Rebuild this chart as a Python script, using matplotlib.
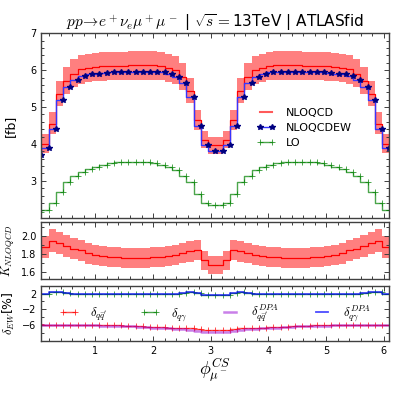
import numpy as np
import matplotlib
matplotlib.use("Agg")
from matplotlib import pyplot as plt
from matplotlib.ticker import MultipleLocator
from matplotlib.lines import Line2D

plt.rcParams['mathtext.fontset'] = 'cm'
plt.rcParams['font.family'] = 'DejaVu Sans'

# bin centres of phi_mu^CS (50 bins over 2pi, last one not drawn)
phi = (np.arange(49) + 0.5) * 2 * np.pi / 50

# cross sections [fb]
lo = [2.15, 2.21, 2.41, 2.71, 2.96, 3.14, 3.23, 3.31, 3.38, 3.43, 3.47, 3.50, 3.52, 3.52, 3.52, 3.50, 3.47,
      3.43, 3.38, 3.30, 3.14, 2.96, 2.64, 2.41, 2.35,
      2.35, 2.41, 2.64, 2.96, 3.14, 3.30, 3.38, 3.43, 3.47, 3.50, 3.52, 3.52, 3.52, 3.50, 3.47, 3.43,
      3.38, 3.31, 3.23, 3.14, 2.96, 2.71, 2.41, 2.21]
nloqcd = [3.82, 4.01, 4.55, 5.36, 5.72, 5.91, 6.02, 6.07, 6.09, 6.11, 6.12, 6.12, 6.12, 6.13, 6.13, 6.13, 6.13,
          6.12, 6.07, 6.00, 5.82, 5.44, 4.65, 4.12, 3.96,
          3.96, 4.12, 4.65, 5.44, 5.82, 6.00, 6.07, 6.12, 6.13, 6.13, 6.13, 6.13, 6.12, 6.12, 6.12, 6.11,
          6.09, 6.07, 6.02, 5.91, 5.72, 5.36, 4.55, 4.01]
nloqcdew = [3.70, 3.89, 4.41, 5.20, 5.55, 5.73, 5.84, 5.89, 5.91, 5.93, 5.94, 5.94, 5.94, 5.95, 5.95, 5.95, 5.95,
            5.94, 5.89, 5.82, 5.64, 5.27, 4.50, 3.98, 3.82,
            3.82, 3.98, 4.50, 5.27, 5.64, 5.82, 5.89, 5.94, 5.95, 5.95, 5.95, 5.95, 5.94, 5.94, 5.94, 5.93,
            5.91, 5.89, 5.84, 5.73, 5.55, 5.20, 4.41, 3.89]
# scale uncertainty of NLOQCD [%]
scale_up = [6.3, 6.5, 6.8, 6.7, 6.6, 6.5, 6.4, 6.3, 6.3, 6.2, 6.2, 6.2, 6.2, 6.2, 6.2, 6.2, 6.2, 6.2, 6.3, 6.3,
            6.3, 6.2, 6.0, 5.8, 5.7,
            5.7, 5.8, 6.0, 6.2, 6.3, 6.3, 6.3, 6.2, 6.2, 6.2, 6.2, 6.2, 6.2, 6.2, 6.2, 6.2, 6.3, 6.3, 6.4,
            6.5, 6.6, 6.7, 6.8, 6.5]
scale_dn = [6.2, 6.3, 6.4, 6.4, 6.4, 6.4, 6.4, 6.4, 6.4, 6.4, 6.4, 6.4, 6.4, 6.4, 6.4, 6.4, 6.4, 6.4, 6.4, 6.4,
            6.3, 6.2, 6.0, 5.9, 5.8,
            5.8, 5.9, 6.0, 6.2, 6.3, 6.4, 6.4, 6.4, 6.4, 6.4, 6.4, 6.4, 6.4, 6.4, 6.4, 6.4, 6.4, 6.4, 6.4,
            6.4, 6.4, 6.4, 6.4, 6.3]
# K factor NLOQCD/LO
kfac = [1.80, 1.875, 1.95, 1.92, 1.89, 1.86, 1.84, 1.81, 1.79, 1.78, 1.77, 1.765, 1.76, 1.76, 1.76, 1.76, 1.765,
        1.77, 1.78, 1.79, 1.81, 1.83, 1.85, 1.73, 1.68,
        1.68, 1.73, 1.85, 1.83, 1.81, 1.79, 1.78, 1.77, 1.765, 1.76, 1.76, 1.76, 1.76, 1.765, 1.77, 1.78,
        1.79, 1.81, 1.84, 1.86, 1.89, 1.92, 1.95, 1.875]
# EW corrections [%]
d_qq = [-5.8, -5.9, -5.9, -5.9, -5.9, -5.9, -5.9, -5.9, -5.9, -6.0, -6.0, -6.0, -6.1, -6.2, -6.3, -6.4, -6.5,
        -6.5, -6.6, -6.6, -6.7, -6.8, -7.0, -7.1, -7.2,
        -7.2, -7.1, -7.0, -6.8, -6.7, -6.6, -6.6, -6.5, -6.5, -6.4, -6.3, -6.2, -6.1, -6.0, -6.0, -6.0,
        -5.9, -5.9, -5.9, -5.9, -5.9, -5.9, -5.9, -5.9]
d_qq_dpa = [-6.0, -6.0, -6.0, -6.0, -6.0, -6.0, -6.0, -6.0, -6.0, -6.1, -6.1, -6.1, -6.2, -6.3, -6.4, -6.5, -6.6,
            -6.7, -6.8, -6.9, -7.0, -7.2, -7.4, -7.6, -7.6,
            -7.6, -7.6, -7.4, -7.2, -7.0, -6.9, -6.8, -6.7, -6.6, -6.5, -6.4, -6.3, -6.2, -6.1, -6.1, -6.1,
            -6.0, -6.0, -6.0, -6.0, -6.0, -6.0, -6.0, -6.0]
d_qg = [1.8, 2.0, 2.4, 2.3, 2.1, 2.0, 2.0, 1.9, 1.9, 1.9, 1.9, 1.9, 1.9, 1.9, 1.9, 1.9, 1.9, 1.9, 2.0, 2.0,
        2.1, 2.4, 2.2, 1.7, 1.6,
        1.6, 1.7, 2.2, 2.4, 2.1, 2.0, 2.0, 1.9, 1.9, 1.9, 1.9, 1.9, 1.9, 1.9, 1.9, 1.9, 1.9, 1.9, 2.0,
        2.0, 2.1, 2.3, 2.4, 2.0]
d_qg_dpa = [1.9, 2.0, 2.4, 2.3, 2.1, 2.0, 2.0, 2.0, 1.9, 1.9, 1.9, 1.9, 1.9, 1.9, 1.9, 1.9, 1.9, 2.0, 2.0, 2.0,
            2.1, 2.4, 2.2, 1.6, 1.6,
            1.6, 1.6, 2.2, 2.4, 2.1, 2.0, 2.0, 2.0, 1.9, 1.9, 1.9, 1.9, 1.9, 1.9, 1.9, 1.9, 1.9, 2.0, 2.0,
            2.0, 2.1, 2.3, 2.4, 2.0]

nloqcd = np.array(nloqcd)
kfac = np.array(kfac)
up = 1 + np.array(scale_up) / 100
dn = 1 - np.array(scale_dn) / 100

fig = plt.figure(figsize=(3.99, 3.99), dpi=100)
ax1 = fig.add_axes([0.1035, 0.4544, 0.8722, 0.4621])
ax2 = fig.add_axes([0.1035, 0.3000, 0.8722, 0.1444])
ax3 = fig.add_axes([0.1035, 0.1454, 0.8722, 0.1386])

# main panel
ax1.fill_between(phi, nloqcd * dn, nloqcd * up, step='pre', color='red', alpha=0.5, lw=0)
ax1.step(phi, nloqcd, where='pre', color='red', lw=0.9)
ax1.step(phi, lo, where='pre', color='green', alpha=0.7, lw=1.0, marker='+', ms=4, mew=0.7)
ax1.step(phi, nloqcdew, where='pre', color='#3535ff', lw=1.0, marker='*', ms=3.8,
         mfc='navy', mec='navy')
ax1.set_ylim(2.0, 7.0)
ax1.set_yticks([3, 4, 5, 6, 7])
ax1.yaxis.set_minor_locator(MultipleLocator(0.2))
ax1.set_ylabel('[fb]', fontsize=9)
ax1.set_title(r'$pp\!\rightarrow\! e^+\nu_e\mu^+\mu^-$ | $\sqrt{s}=$13TeV | ATLASfid', fontsize=11, pad=3)

h_qcd = Line2D([], [], color='#ff5a5a', lw=1.5)
h_ew = Line2D([], [], color='#3535ff', lw=1.0, marker='*', ms=3.8, mfc='navy', mec='navy')
h_lo = Line2D([], [], color='green', alpha=0.7, lw=1.0, marker='+', ms=4, mew=0.7)
ax1.legend([h_qcd, h_ew, h_lo], ['NLOQCD', 'NLOQCDEW', 'LO'], loc='center left',
           bbox_to_anchor=(0.62, 0.485), frameon=False, fontsize=8, numpoints=2,
           handlelength=1.6, handletextpad=1.0, labelspacing=0.45, borderpad=0, borderaxespad=0)

# K factor panel
ax2.fill_between(phi, kfac * dn, kfac * up, step='pre', color='red', alpha=0.5, lw=0)
ax2.step(phi, kfac, where='pre', color='red', lw=0.9)
ax2.set_ylim(1.52, 2.16)
ax2.set_yticks([1.6, 1.8, 2.0])
ax2.yaxis.set_minor_locator(MultipleLocator(0.1))
ax2.set_ylabel(r'$K_{NLOQCD}$', fontsize=9)

# EW correction panel
ax3.step(phi, d_qq, where='pre', color='red', alpha=0.7, lw=1.0, marker='+', ms=4, mew=0.7,
         label=r"$\delta_{q\bar{q}'}$")
ax3.step(phi, d_qg, where='pre', color='green', alpha=0.7, lw=1.0, marker='+', ms=4, mew=0.7,
         label=r'$\delta_{q\gamma}$')
ax3.step(phi, d_qq_dpa, where='pre', color='darkviolet', alpha=0.5, lw=1.8,
         label=r"$\delta_{q\bar{q}'}^{DPA}$")
ax3.step(phi, d_qg_dpa, where='pre', color='blue', alpha=0.7, lw=1.3,
         label=r'$\delta_{q\gamma}^{DPA}$')
ax3.set_ylim(-10, 4)
ax3.set_yticks([2, -2, -6])
ax3.yaxis.set_minor_locator(MultipleLocator(2))
ax3.set_ylabel(r'$\delta_{EW}$[%]', fontsize=9)
ax3.set_xlabel(r'$\phi^{CS}_{\mu^-}$', fontsize=13, labelpad=0)
ax3.legend(loc='center', bbox_to_anchor=(0.5, 0.5), ncol=4, frameon=False, fontsize=9,
           numpoints=2, handlelength=1.6, handletextpad=0.9, columnspacing=2.6,
           borderpad=0, borderaxespad=0)

for ax in (ax1, ax2, ax3):
    ax.set_xlim(phi[0], phi[-1])
    ax.xaxis.set_major_locator(MultipleLocator(1))
    ax.xaxis.set_minor_locator(MultipleLocator(0.2))
    ax.tick_params(which='both', direction='in', top=True, right=True, labelsize=7, color='0.25')
    ax.tick_params(which='major', length=3.8, width=0.7)
    ax.tick_params(which='minor', length=2.4, width=0.7)
    for s in ax.spines.values():
        s.set_color('0.25')
        s.set_linewidth(1.0)
    ax.yaxis.set_label_coords(-0.07, 0.5)
ax1.tick_params(labelbottom=False)
ax2.tick_params(labelbottom=False)

fig.savefig('out.png', dpi=100)
